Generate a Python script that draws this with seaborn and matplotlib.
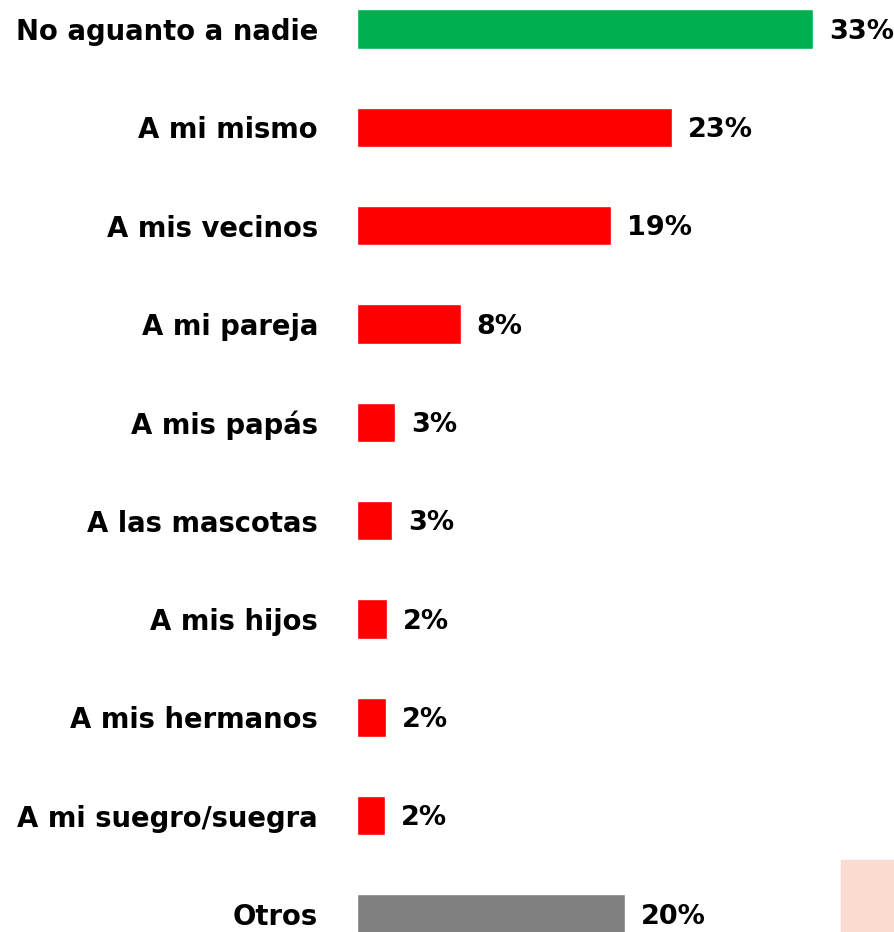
import matplotlib
matplotlib.use('Agg')
import matplotlib.pyplot as plt
import matplotlib.patches as mpatches
import seaborn as sns

# datos
categorias = ['No aguanto a nadie', 'A mi mismo', 'A mis vecinos', 'A mi pareja',
              'A mis papás', 'A las mascotas', 'A mis hijos', 'A mis hermanos',
              'A mi suegro/suegra', 'Otros']
valores = [33.0, 22.8, 18.4, 7.5, 2.75, 2.55, 2.15, 2.08, 2.05, 19.4]
etiquetas = ['33%', '23%', '19%', '8%', '3%', '3%', '2%', '2%', '2%', '20%']
colores = ['#00B050'] + ['#FF0000'] * 8 + ['#808080']

sns.set_style('white')
plt.rcParams['font.family'] = ['DejaVu Sans']

fig = plt.figure(figsize=(8.95, 9.32), dpi=100)
ax = fig.add_axes([357 / 895, 0, 525 / 895, 1])

sns.barplot(x=valores, y=categorias, hue=categorias, palette=colores,
            legend=False, width=0.4, orient='h', saturation=1, ax=ax)

ax.set_xlim(0, 38)
ax.set_ylim(9.183, -0.295)

for i, (v, t) in enumerate(zip(valores, etiquetas)):
    ax.annotate(t, (v, i), xytext=(11.5, -2), textcoords='offset points',
                va='center', ha='left', fontsize=19.5, fontweight='bold', color='black')

sns.despine(ax=ax, left=True, bottom=True)
ax.set_xticks([])
ax.set_xlabel('')
ax.set_ylabel('')
ax.tick_params(axis='y', length=0, pad=28, labelcolor='black')
for lab in ax.get_yticklabels():
    lab.set_fontsize(19.8)
    lab.set_fontweight('bold')

# mancha rosada en la esquina inferior derecha
fig.patches.append(mpatches.Rectangle((841 / 895, 0), 54 / 895, 72 / 932,
                                      transform=fig.transFigure, color='#FADBD0',
                                      zorder=0))

plt.savefig('out.png', dpi=100)
